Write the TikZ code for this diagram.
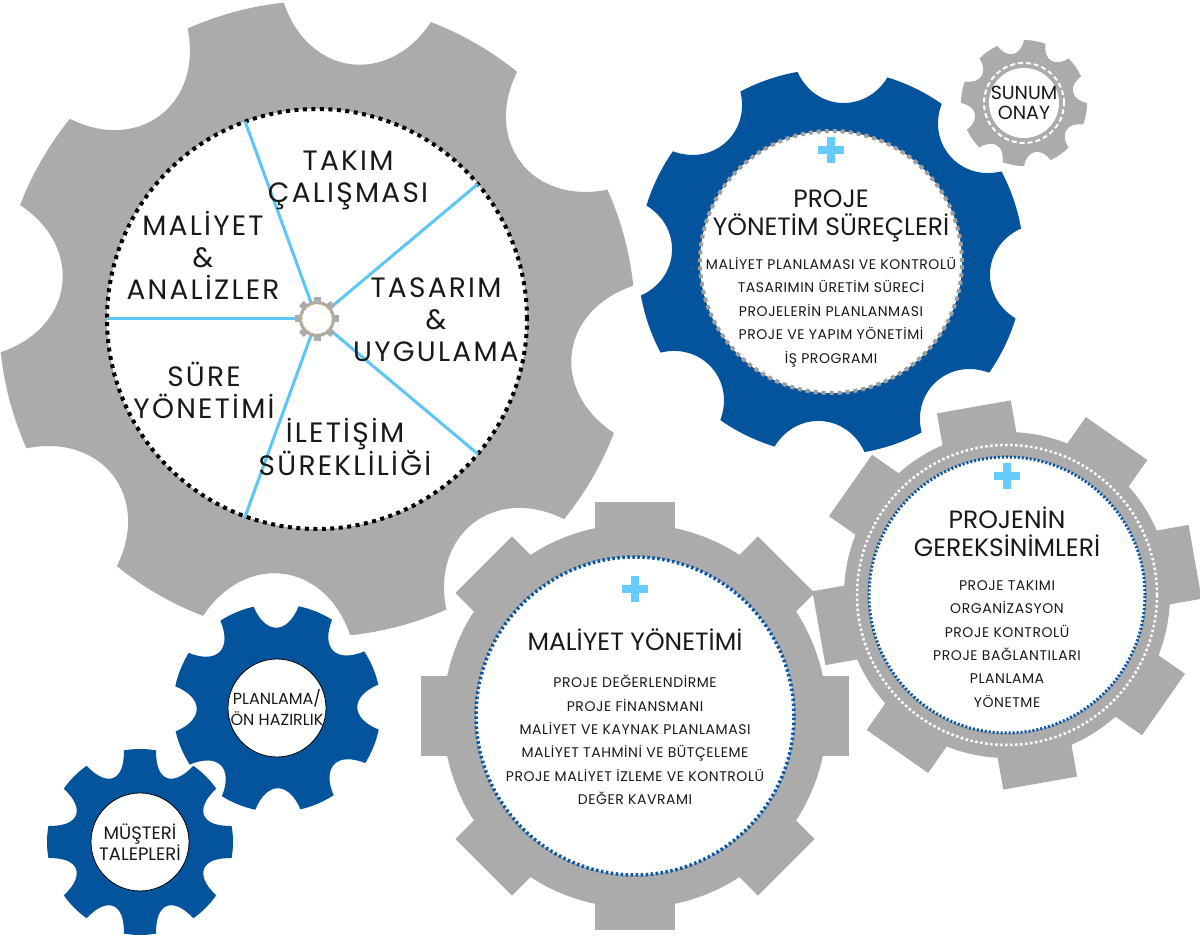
\documentclass[tikz,border=0pt]{standalone}
\usepackage{fontspec}
\setmainfont{Poppins}
\usetikzlibrary{positioning}

\definecolor{geargray}{RGB}{171,171,171}
\definecolor{gearblue}{RGB}{4,83,157}
\definecolor{spokeblue}{RGB}{92,198,245}
\definecolor{plusblue}{RGB}{102,204,255}
\definecolor{dotblue}{RGB}{10,88,165}
\definecolor{dotgray}{RGB}{158,158,158}
\definecolor{hubring}{RGB}{236,170,70}

\tikzset{
  graygear/.style={fill=geargray},
  bluegear/.style={fill=gearblue},
  whitedisc/.style={circle,fill=white,inner sep=0pt,outer sep=0pt},
  spoke/.style={draw=spokeblue,line width=3pt},
  plusmark/.style={draw=plusblue,line width=8pt},
  biglabel/.style={align=center,text=black!90,font=\fontsize{28}{32}\selectfont\addfontfeatures{LetterSpace=8}},
  headlabel/.style={align=center,text=black!90,font=\fontsize{25}{28}\selectfont},
  itemlist/.style={align=center,text=black!90,font=\fontsize{14}{23.4}\selectfont\addfontfeatures{LetterSpace=4}},
  smalllabel/.style={align=center,text=black!90,font=\fontsize{16}{21}\selectfont},
}

% gear with round gaps: center, offset, tip r, control r, half tip angle, style
\newcommand{\roundgear}[6]{%
  \fill[#6,shift={#1}] (#2-#5:#3)
    \foreach \k in {0,...,7}{
      arc[start angle=#2+45*\k-#5,end angle=#2+45*\k+#5,radius=#3]
      .. controls (#2+45*\k+#5+4:#4) and (#2+45*\k+41-#5:#4) .. (#2+45*\k+45-#5:#3)
    } -- cycle;}
% gear with square teeth: center, offset, root r, tip r, tooth width, style
\newcommand{\rectgear}[6]{%
  \fill[#6] #1 circle (#3);
  \foreach \k in {0,...,7}
    \fill[#6,shift={#1},rotate=#2+45*\k] (#3-8,-#5/2) rectangle (#4,#5/2);}

\begin{document}
\begin{tikzpicture}[x=1pt,y=1pt]
\useasboundingbox (0,0) rectangle (1200,937);

% big gray gear
\roundgear{(317,618)}{15}{318}{243}{9}{graygear}
\node[whitedisc,minimum size=420pt,draw=black,line width=4pt,dash pattern=on 4pt off 4.5pt] (wheel) at (317,618) {};
\coordinate (hub) at (317,618);
\foreach \a in {110,40,180,-40,-110}
  \draw[spoke] (hub) -- (wheel.\a);
\rectgear{(317,618)}{0}{18}{22}{7}{graygear}
\node[whitedisc,minimum size=30pt,draw=hubring,line width=0.6pt,densely dashed] (hubdisc) at (hub) {};

\node[biglabel] (takim) at (348,757) {TAKIM\\ÇALIŞMASI};
\node[biglabel] (maliyet) at (203,682) {MALİYET\\\&\\ANALİZLER};
\node[biglabel] (tasarim) at (436,617) {TASARIM\\\&\\UYGULAMA};
\node[biglabel] (sure) at (204,547) {SÜRE\\YÖNETİMİ};
\node[biglabel] (iletisim) at (345,490) {İLETİŞİM\\SÜREKLİLİĞİ};

% cost gear
\rectgear{(635,221)}{0}{192}{214}{80}{graygear}
\node[whitedisc,minimum size=318pt,draw=dotblue,line width=3.5pt,dash pattern=on 2.5pt off 2.5pt] (costdisc) at (635,221) {};
\path ([yshift=-32pt]costdisc.north) coordinate (costplus);
\draw[plusmark] (costplus) ++(-13,0) -- ++(26,0) (costplus) ++(0,-13) -- ++(0,26);
\node[headlabel] (costtitle) at (635,297) {MALİYET YÖNETİMİ};
\node[itemlist] (costlist) at (635,197) {PROJE DEĞERLENDİRME\\PROJE FİNANSMANI\\MALİYET VE KAYNAK PLANLAMASI\\MALİYET TAHMİNİ VE BÜTÇELEME\\PROJE MALİYET İZLEME VE KONTROLÜ\\DEĞER KAVRAMI};

% requirements gear
\rectgear{(1007,342)}{10}{163}{191}{75}{graygear}
\draw[white,line width=2.5pt,dash pattern=on 2.5pt off 2.5pt] (1007,342) circle (150);
\node[whitedisc,minimum size=276pt,draw=dotblue,line width=3pt,dash pattern=on 2pt off 2pt] (needdisc) at (1007,342) {};
\path ([yshift=-19pt]needdisc.north) coordinate (needplus);
\draw[plusmark] (needplus) ++(-13,0) -- ++(26,0) (needplus) ++(0,-13) -- ++(0,26);
\node[headlabel] (needtitle) at (1007,405) {PROJENİN\\GEREKSİNİMLERİ};
\node[itemlist] (needlist) at (1007,293) {PROJE TAKIMI\\ORGANİZASYON\\PROJE KONTROLÜ\\PROJE BAĞLANTILARI\\PLANLAMA\\YÖNETME};

% process gear
\roundgear{(831,675)}{19}{193}{152}{9}{bluegear}
\node[whitedisc,minimum size=262pt,draw=dotgray,line width=4pt,dash pattern=on 4pt off 4pt] (procdisc) at (831,675) {};
\path ([yshift=-19pt]procdisc.north) coordinate (procplus);
\draw[plusmark] (procplus) ++(-13,0) -- ++(26,0) (procplus) ++(0,-13) -- ++(0,26);
\node[headlabel] (proctitle) at (831,721) {PROJE\\YÖNETİM SÜREÇLERİ};
\node[itemlist] (proclist) at (831,625) {MALİYET PLANLAMASI VE KONTROLÜ\\TASARIMIN ÜRETİM SÜRECİ\\PROJELERİN PLANLANMASI\\PROJE VE YAPIM YÖNETİMİ\\İŞ PROGRAMI};

% approval gear
\roundgear{(1024,834)}{35}{63}{47}{10}{graygear}
\draw[white,line width=2pt,dash pattern=on 5pt off 3pt] (1024,834) circle (40);
\node[whitedisc,minimum size=70pt] (sunum) at (1024,834) {};
\node[smalllabel,font=\fontsize{19}{20}\selectfont] (sunumtext) at (sunum) {SUNUM\\ONAY};

% small blue gears
\roundgear{(277,229)}{23}{104}{74}{10}{bluegear}
\node[whitedisc,minimum size=98pt,draw=black,line width=0.8pt] (plandisc) at (277,229) {};
\node[smalllabel] (plantext) at (plandisc) {PLANLAMA/\\ÖN HAZIRLIK};

\roundgear{(140,95)}{0}{93}{63}{10}{bluegear}
\node[whitedisc,minimum size=98pt,draw=black,line width=0.8pt] (clientdisc) at (140,95) {};
\node[smalllabel,font=\fontsize{18}{21}\selectfont] (clienttext) at (clientdisc) {MÜŞTERİ\\TALEPLERİ};

\end{tikzpicture}
\end{document}
